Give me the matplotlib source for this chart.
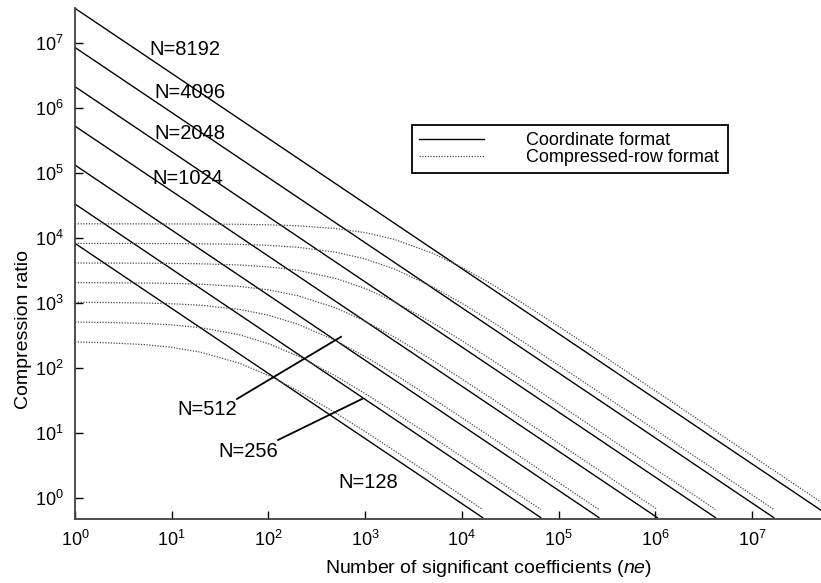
import matplotlib.pyplot as plt
from matplotlib.ticker import FixedLocator, LogFormatterMathtext, NullLocator

plt.rcParams['font.family'] = ['Liberation Sans', 'DejaVu Sans']
plt.rcParams['mathtext.fontset'] = 'custom'
plt.rcParams['mathtext.rm'] = 'Liberation Sans'
plt.rcParams['mathtext.it'] = 'Liberation Sans:italic'

# matrix sizes, one curve pair per size
sizes = [128, 256, 512, 1024, 2048, 4096, 8192]

# coordinate format: straight lines from ne=1 down to the full matrix
coord_start = [8.2e3, 3.3e4, 1.31e5, 5.2e5, 2.1e6, 8.4e6, 3.36e7]
last_ne = [1.64e4, 6.55e4, 2.62e5, 1.05e6, 4.19e6, 1.68e7, 6.71e7]
coord_last = 0.5

# compressed-row format, read at these ne values
ne_grid = [1, 2, 5, 10, 20, 50, 100, 200, 500, 1e3, 2e3, 5e3, 1e4, 2e4, 5e4,
           1e5, 2e5, 5e5, 1e6, 2e6, 5e6, 1e7, 2e7, 5e7]
crs_128 = [250, 244, 229, 207, 174, 118, 76.6, 45.0, 20.1, 10.5, 5.35, 2.17, 1.09]
crs_256 = [506, 500, 484, 458, 415, 323, 236, 153, 74.6, 40.3, 21.0, 8.59, 4.33,
           2.18, 0.87]
crs_512 = [1018, 1012, 995, 967, 917, 792, 646, 471, 261, 149, 80.5, 33.8, 17.2,
           8.66, 3.48, 1.74, 0.87]
crs_1024 = [2042, 2036, 2018, 1990, 1935, 1786, 1584, 1291, 831, 521, 299, 131,
            67.6, 34.4, 13.9, 6.97, 3.49, 1.40, 0.70]
crs_2048 = [4090, 4084, 4066, 4037, 3979, 3816, 3573, 3168, 2364, 1662, 1042, 492,
            262, 135, 55.2, 27.8, 13.9, 5.58, 2.79, 1.40]
crs_4096 = [8186, 8180, 8162, 8132, 8074, 7903, 7633, 7145, 5996, 4729, 3324, 1757,
            984, 524, 218, 110, 55.5, 22.3, 11.2, 5.59, 2.24, 1.12]
crs_8192 = [16378, 16372, 16354, 16324, 16265, 16089, 15805, 15266, 13848, 11992,
            9457, 5787, 3514, 1968, 848, 435, 221, 89.0, 44.6, 22.3, 8.94, 4.47,
            2.24, 0.895]
crs_last = 0.667
crs_values = [crs_128, crs_256, crs_512, crs_1024, crs_2048, crs_4096, crs_8192]

decade_ticks = [1, 10, 100, 1e3, 1e4, 1e5, 1e6, 1e7]

# curve labels (ne, ratio) of text centres
label_text = ['N=8192', 'N=4096', 'N=2048', 'N=1024', 'N=512', 'N=256', 'N=128']
label_pos = [(13.7, 7.8e6), (15.5, 1.7e6), (15.5, 4.0e5), (14.7, 8.1e4),
             (23.2, 22.6), (61.5, 5.1), (1071, 1.76)]
# leader lines for N=512 and N=256
leaders = [((47.3, 33.3), (563, 300)), ((126, 7.8), (929, 33.3))]

fig = plt.figure(figsize=(8.21, 5.83), dpi=100)
ax = fig.add_axes([75 / 821, 64.5 / 583, 746 / 821, 510.5 / 583])

for i, n in enumerate(sizes):
    ax.plot([1, last_ne[i]], [coord_start[i], coord_last], color='black', lw=1.0,
            label='Coordinate format' if i == 0 else None)
    vals = crs_values[i]
    ax.plot(list(ne_grid[:len(vals)]) + [last_ne[i]], vals + [crs_last],
            color='0.3', lw=0.9, dashes=(1, 1.2),
            label='Compressed-row format' if i == 0 else None)

for txt, (x, y) in zip(label_text, label_pos):
    ax.text(x, y, txt, fontsize=14.5, ha='center', va='center')
for (x0, y0), (x1, y1) in leaders:
    ax.plot([x0, x1], [y0, y1], color='black', lw=1.3)

ax.set_xscale('log')
ax.set_yscale('log')
ax.set_xlim(1, 5.18e7)
ax.set_ylim(0.484, 3.4e7)
ax.xaxis.set_major_locator(FixedLocator(decade_ticks))
ax.yaxis.set_major_locator(FixedLocator(decade_ticks))
ax.xaxis.set_major_formatter(LogFormatterMathtext())
ax.yaxis.set_major_formatter(LogFormatterMathtext())
ax.xaxis.set_minor_locator(NullLocator())
ax.yaxis.set_minor_locator(NullLocator())
ax.tick_params(direction='in', length=6, width=1.0, labelsize=13, pad=8)

for side in ['top', 'right']:
    ax.spines[side].set_visible(False)
for side in ['left', 'bottom']:
    ax.spines[side].set_linewidth(1.3)
    ax.spines[side].set_color('0.25')

ax.set_xlabel('Number of significant coefficients ($\\it{ne}$)', fontsize=14)
ax.set_ylabel('Compression ratio', fontsize=14)
ax.xaxis.set_label_coords(0.554, -0.078)
ax.yaxis.set_label_coords(-0.058, 0.371)

leg = ax.legend(loc='upper left', mode='expand',
                bbox_to_anchor=(412 / 821, 1 - 175 / 583, 316 / 821, 50 / 583),
                bbox_transform=fig.transFigure, fontsize=13, frameon=True,
                fancybox=False, edgecolor='black', framealpha=1,
                handlelength=3.6, handletextpad=2.3, labelspacing=0.0,
                borderpad=0.4, borderaxespad=0)
leg.get_frame().set_linewidth(1.3)

fig.savefig('out.png', dpi=100)
